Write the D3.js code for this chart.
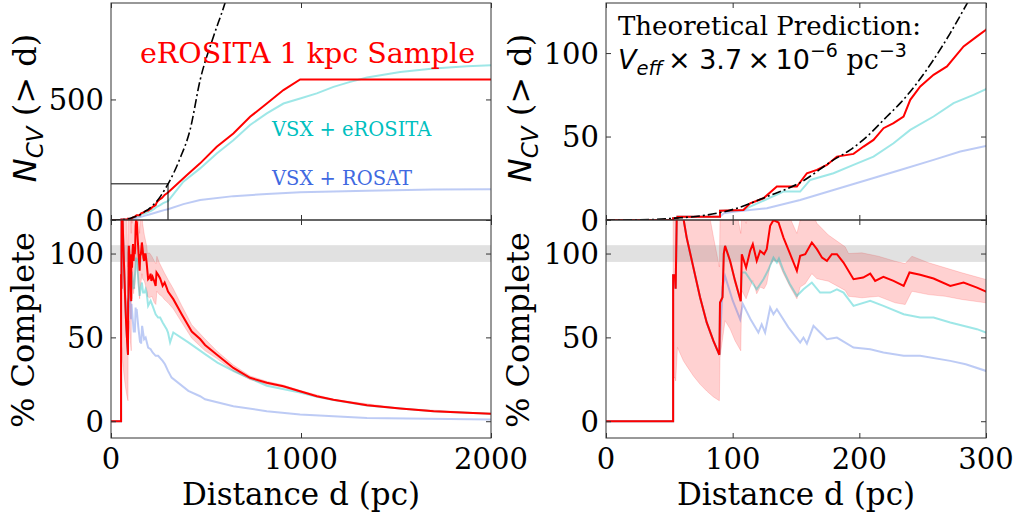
<!DOCTYPE html>
<html><head><meta charset="utf-8">
<script src="https://cdn.jsdelivr.net/npm/d3@7"></script>
<style>body{margin:0;background:#fff} svg{display:block}</style>
</head><body><svg id="c" width="1019" height="512"></svg>
<script>
// ---------- DATA (distance d in pc, value) ----------
// cumulative counts N_CV(<d)
const redN = [[0,0],[53,0],[53,1],[56.4,1],[56.4,2],[90,2],[90,5.6],[108.5,6],[113.8,10],[124.3,13],[134.9,20],[150.7,20],[158.6,28],[166.5,30],[174.4,33],[182.3,38],[195.4,39.6],[203.3,44],[211.2,48],[219.1,55],[227,58],[234.9,62],[240.2,72],[248.1,80],[258.6,87],[269.2,92],[282.3,104],[292.9,110],[300,114],[398.5,186],[469,235],[556.6,304],[644,359],[732,428],[820,483],[907.6,539],[995.5,583],[2000,583]];
const cyanN = [[0,0],[53,0],[53,1],[56.4,1],[56.4,2],[90,2],[90,5.6],[108.5,6],[113.8,8],[140.1,17],[153.3,17],[161.2,24],[179.6,28],[195.4,33],[211.2,38],[227,46],[240.2,54],[258.6,62],[274.4,70],[290.2,75],[300,78.4],[381,159],[469,214],[556.6,276],[644,331],[732,394],[820,442],[907.6,483],[995.5,504],[1083,525],[1171,552],[1259,573],[1347,591],[1522,614],[1698,628],[1874,638],[2000,642]];
const blueN = [[0,0],[53,0],[53,1],[56.4,1],[56.4,2],[90,2],[93,4],[100.6,5],[127,7],[153.3,12],[179.6,18],[206,24],[232.3,30],[258.6,36],[279.7,41],[300,44.4],[381,66],[469,83],[644,99],[820,108],[995,115],[1347,121],[1698,126],[2000,128]];
const theoryN = [[0,0],[20,0.05],[40,0.4],[54,1.1],[74.3,2.4],[100.6,6.4],[127,14],[153.3,22.4],[179.6,36],[192.8,42],[206,50],[221.8,62],[232.3,70],[245.5,82],[258.6,96],[271.8,112],[285,129.6],[302,152],[363,255],[416,373],[469,580],[539,760],[600,900],[640,1010]];
const insetD = [0,300];
const insetN = [0,150];

// completeness (%)
const redPct = [[0,0],[53,0],[53,87],[54.5,87],[55,79],[56.4,150],[61.1,121],[63.7,109.5],[69,91.6],[74.3,73.8],[79.5,58.9],[84.8,47.9],[89.5,39.6],[90,70.8],[92,74],[93,100],[94,104.6],[98,95.6],[101.9,83.7],[106.4,71.6],[107.2,99.6],[110.6,91.6],[113.8,101.6],[115.9,105.6],[119,95.6],[121.7,101.6],[124.8,99.6],[126.9,102.6],[129.6,116.5],[132.2,119.9],[136.2,118.5],[140.1,109.5],[145.4,99.6],[150.7,89.7],[153.3,98.6],[157.3,99.6],[162.5,106.6],[166.5,102.6],[170.5,97.6],[174.4,95.6],[178.3,99.6],[182.3,99.6],[187.5,94.6],[195.4,84.7],[203,85.7],[208.6,88],[212.5,83.7],[219,86.1],[227,83.7],[235,80.7],[239.6,88.7],[248,87.3],[258.6,85.1],[271.8,80.7],[282.3,82.7],[292.9,79.7],[300,77.3],[328,72.8],[372,63.8],[425,53.5],[469,49],[495,45.5],[556,39.8],[644,31.8],[732,25.9],[820,22.9],[907,20.9],[995,17.9],[1083,14.9],[1171,12.8],[1347,9.5],[1522,7.6],[1698,6],[1874,5],[2000,4.4]];
const cyanPct = [[0,0],[53,0],[53,87],[54.5,87],[55,79],[56.4,150],[61.1,121],[63.7,109.5],[69,91.6],[74.3,73.8],[79.5,58.9],[84.8,47.9],[89.5,39.6],[90,70.8],[92,74],[93,100],[94,104.6],[98,95.6],[101.9,83.7],[106.4,71.6],[107.2,88.7],[110,88.7],[119,78.7],[124.3,84.7],[128,90],[132.2,97.6],[134.9,94.6],[136.5,97],[140,90],[145,82],[150.7,74.8],[155.9,78.7],[162.5,82.7],[169,76.7],[177,76.7],[182.3,78.7],[187.5,76.7],[195.4,68.8],[208.6,71.8],[219,68.8],[235,63.8],[248,61.8],[258.6,61.8],[271.8,58.9],[292.9,54.9],[300,52.9],[311,47],[328,52.9],[407,47],[495,40],[560,35],[653,29.5],[820,21.2],[995,17.1],[1083,14.6],[1171,12.6],[1347,9.4],[1522,7.6],[1698,6],[1874,5],[2000,4.4]];
const bluePct = [[0,0],[53,0],[53,87],[54.5,87],[55,79],[56.4,150],[61.1,121],[63.7,109.5],[69,91.6],[74.3,73.8],[79.5,58.9],[84.8,47.9],[89.5,39.6],[92,80],[94,86.5],[100,72],[105.9,60.8],[108,70],[114,61],[120.3,52.9],[122.9,57.8],[125.6,52.9],[129.6,67.8],[132.2,63.8],[134.9,66.8],[144,56],[153.3,46.9],[155.9,49.9],[158.6,46.3],[163.8,56.9],[169,52.9],[174.4,48.9],[182.3,49.9],[195.4,43.9],[208.6,42.9],[219,41],[235,39],[248,39],[271.8,36],[284,34],[300,30],[319,26],[407,18.1],[469,14.9],[495,13.1],[644,8.9],[820,6],[995,4],[1347,2],[2000,1]];
// uncertainty band on red completeness: [d, low, high]
const redBand = [[0,0,0],[53,0,0],[53,26,200],[54.5,26,200],[55,24,180],[56.4,44,300],[61.1,36,250],[63.7,33,225],[69,27,190],[74.3,22,160],[79.5,18,132],[84.8,14.5,110],[89.5,12.2,92],[90,38,120],[94,60,165],[98,55,150],[101.9,48,130],[106.4,42,112],[107.2,78,125],[110.6,73,118],[113.8,80,128],[115.9,84,132],[119,76,120],[121.7,80,126],[124.8,79,124],[126.9,82,128],[129.6,93,142],[132.2,96,146],[136.2,95,144],[140.1,88,133],[145.4,80,121],[150.7,73,112],[153.3,80,120],[157.3,82,121],[162.5,88,125],[166.5,85,118],[175.6,83.5,111],[188.8,78,104],[191.5,74.5,100],[202,73.6,100.4],[215,74.5,98.4],[228.3,70.6,95.4],[236.2,69.6,94],[241.5,77.5,98.4],[254.7,75.5,94.5],[267.8,74.5,91.5],[281,72.6,88.5],[300,70.6,84.5],[328,67,79],[372,59,69],[425,49.5,57.5],[495,42,49],[556,37.5,42],[644,30,33.5],[732,24.8,27],[820,22,23.8],[907,20.2,21.6],[995,17.4,18.4],[1171,12.5,13.1],[1522,7.4,7.8],[2000,4.2,4.6]];
const completeSpan = [95,105];

const xTicksL = [0,1000,2000], xTicksR = [0,100,200,300];
const yTicksTopL = [0,500], yTicksTopR = [0,50,100], yTicksBot = [0,50,100];

// ---------- DRAWING ----------
const svg = d3.select('#c');
const SERIF = "'DejaVu Serif', serif", SANS = "'DejaVu Sans', sans-serif";
const C_RED = '#ff0000', C_CYAN = '#00bfbf', C_BLUE = '#4169e1';
const colL = [111,491], colR = [606,986], rowT = [220,3], rowB = [438,220];
const TICK_FS = 29, LAB_FS = 31;

const panels = [
  {id:'tl', x:d3.scaleLinear([0,2000],colL), y:d3.scaleLinear([0,900],rowT), xt:xTicksL, yt:yTicksTopL, top:true},
  {id:'tr', x:d3.scaleLinear([0,300],colR), y:d3.scaleLinear([0,130],rowT), xt:xTicksR, yt:yTicksTopR, top:true},
  {id:'bl', x:d3.scaleLinear([0,2000],colL), y:d3.scaleLinear([-10,120],rowB), xt:xTicksL, yt:yTicksBot, top:false},
  {id:'br', x:d3.scaleLinear([0,300],colR), y:d3.scaleLinear([-10,120],rowB), xt:xTicksR, yt:yTicksBot, top:false},
];

function stext(x, y, txt, anchor, fs) {
  return svg.append('text').attr('x',x).attr('y',y)
    .attr('text-anchor',anchor).attr('font-family',SERIF).attr('font-size',fs).text(txt);
}

const defs = svg.append('defs');
panels.forEach(p => {
  const [x0,x1] = p.x.range(), [y0,y1] = p.y.range();
  defs.append('clipPath').attr('id','clip-'+p.id).append('rect')
    .attr('x',x0).attr('y',y1).attr('width',x1-x0).attr('height',y0-y1);
  const g = svg.append('g').attr('clip-path',`url(#clip-${p.id})`);
  const line = d3.line().x(d=>p.x(d[0])).y(d=>p.y(d[1]));
  if (p.top) {
    g.append('path').attr('d',line(blueN)).attr('fill','none').attr('stroke',C_BLUE).attr('stroke-opacity',0.35).attr('stroke-width',2);
    g.append('path').attr('d',line(cyanN)).attr('fill','none').attr('stroke',C_CYAN).attr('stroke-opacity',0.38).attr('stroke-width',2);
    g.append('path').attr('d',line(redN)).attr('fill','none').attr('stroke',C_RED).attr('stroke-width',2);
    g.append('path').attr('d',d3.line().curve(d3.curveMonotoneX).x(d=>p.x(d[0])).y(d=>p.y(d[1]))(theoryN))
      .attr('fill','none').attr('stroke','#000').attr('stroke-width',1.6).attr('stroke-dasharray','9,3,2,3');
    if (p.id==='tl') {
      g.append('path').attr('d',line([[insetD[0],insetN[1]],[insetD[1],insetN[1]],[insetD[1],insetN[0]]]))
        .attr('fill','none').attr('stroke','#000').attr('stroke-width',1);
    }
  } else {
    const area = d3.area().x(d=>p.x(d[0])).y0(d=>p.y(d[1])).y1(d=>p.y(d[2]));
    g.append('path').attr('d',area(redBand)).attr('fill',C_RED).attr('fill-opacity',0.18)
      .attr('stroke',C_RED).attr('stroke-opacity',0.15).attr('stroke-width',1);
    g.append('rect').attr('x',x0).attr('width',x1-x0)
      .attr('y',p.y(completeSpan[1])).attr('height',p.y(completeSpan[0])-p.y(completeSpan[1]))
      .attr('fill','#808080').attr('fill-opacity',0.24);
    g.append('path').attr('d',line(bluePct)).attr('fill','none').attr('stroke',C_BLUE).attr('stroke-opacity',0.35).attr('stroke-width',2);
    g.append('path').attr('d',line(cyanPct)).attr('fill','none').attr('stroke',C_CYAN).attr('stroke-opacity',0.38).attr('stroke-width',2);
    g.append('path').attr('d',line(redPct)).attr('fill','none').attr('stroke',C_RED).attr('stroke-width',2);
  }
  // frame
  svg.append('rect').attr('x',x0).attr('y',y1).attr('width',x1-x0).attr('height',y0-y1)
    .attr('fill','none').attr('stroke','#333').attr('stroke-width',1);
  // ticks (inward, all sides) via d3 axes
  const tl = 5;
  const tickAxis = (axis, tr) => svg.append('g').attr('transform',tr).call(axis.tickSize(tl).tickFormat(''))
    .call(a=>a.select('.domain').remove()).selectAll('line').attr('stroke','#333');
  tickAxis(d3.axisTop(p.x).tickValues(p.xt), `translate(0,${y0})`);
  tickAxis(d3.axisBottom(p.x).tickValues(p.xt), `translate(0,${y1})`);
  tickAxis(d3.axisRight(p.y).tickValues(p.yt), `translate(${x0},0)`);
  tickAxis(d3.axisLeft(p.y).tickValues(p.yt), `translate(${x1},0)`);
  // tick labels
  p.yt.forEach(v => stext(x0-7, p.y(v) + 0.365*TICK_FS, v, 'end', TICK_FS));
  if (!p.top) {
    p.xt.forEach(v => stext(p.x(v), 469, v, 'middle', TICK_FS));
    stext((x0+x1)/2, 505, 'Distance d (pc)', 'middle', LAB_FS);
  }
});

// y labels
function ylabelN(cx, cy) {
  const t = svg.append('text').attr('transform',`translate(${cx},${cy}) rotate(-90)`).attr('text-anchor','middle')
    .attr('font-size',32);
  t.append('tspan').attr('font-family',SANS).attr('font-style','italic').text('N');
  t.append('tspan').attr('font-family',SANS).attr('font-style','italic').attr('font-size',23).attr('dy',7).text('CV');
  t.append('tspan').attr('font-family',SERIF).attr('dy',-7).text(' (> d)');
}
ylabelN(36,108); ylabelN(531,108);
[[34,330],[529,330]].forEach(([cx,cy]) => {
  svg.append('text').attr('transform',`translate(${cx},${cy}) rotate(-90)`).attr('text-anchor','middle')
    .attr('font-family',SERIF).attr('font-size',32).text('% Complete');
});

// annotations
svg.append('text').attr('x',140).attr('y',63).attr('font-family',SERIF).attr('font-size',28.5).attr('fill',C_RED).text('eROSITA 1 kpc Sample');
svg.append('text').attr('x',272).attr('y',136).attr('font-family',SERIF).attr('font-size',19.5).attr('fill',C_CYAN).text('VSX + eROSITA');
svg.append('text').attr('x',272).attr('y',185).attr('font-family',SERIF).attr('font-size',19.5).attr('fill',C_BLUE).text('VSX + ROSAT');

svg.append('text').attr('x',618).attr('y',35).attr('font-family',SERIF).attr('font-size',26).text('Theoretical Prediction:');
const t2 = svg.append('text').attr('x',618).attr('y',69).attr('font-size',27);
t2.append('tspan').attr('font-family',SANS).attr('font-style','italic').text('V');
t2.append('tspan').attr('font-family',SANS).attr('font-style','italic').attr('font-size',19.5).attr('dy',6).text('eff');
t2.append('tspan').attr('font-family',SANS).attr('dy',-6).text('\u2009\u00d7 3.7\u2009\u00d7\u200910');
t2.append('tspan').attr('font-family',SANS).attr('font-size',19).attr('dy',-12).text('\u22126');
t2.append('tspan').attr('font-family',SERIF).attr('dy',12).text(' pc');
t2.append('tspan').attr('font-family',SANS).attr('font-size',19).attr('dy',-12).text('\u22123');
</script></body></html>
